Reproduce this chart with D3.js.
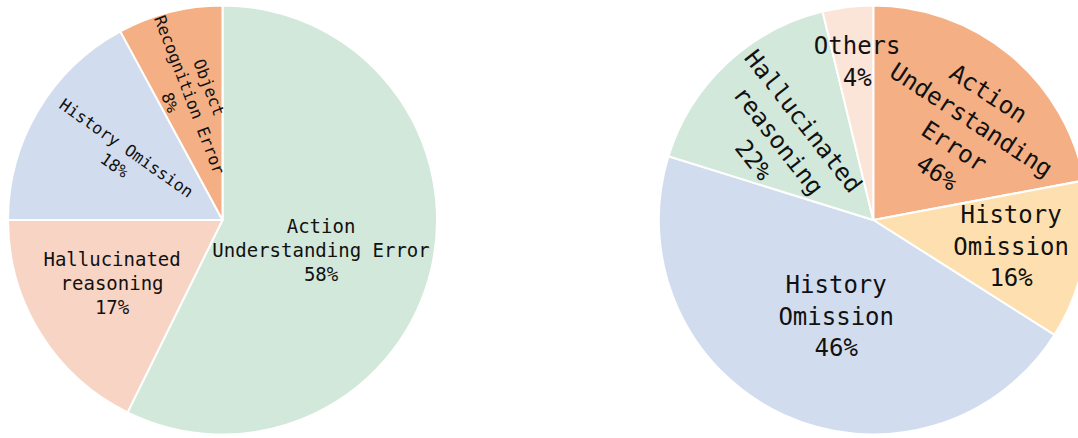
<!DOCTYPE html>
<html>
<head>
<meta charset="utf-8">
<script src="https://cdn.jsdelivr.net/npm/d3@7"></script>
<style>
  html, body { margin: 0; padding: 0; background: #fff; }
  svg { display: block; }
</style>
</head>
<body>
<svg id="chart" width="1078" height="438"></svg>
<script>
// ---- Data ----
const leftCategories = ["Action Understanding Error", "Hallucinated reasoning", "History Omission", "Object Recognition Error"];
const leftValues = [57.3, 17.7, 17.1, 7.9];
const leftLabels = [
  ["Action", "Understanding Error", "58%"],
  ["Hallucinated", "reasoning", "17%"],
  ["History Omission", "18%"],
  ["Object", "Recognition Error", "8%"]
];
const rightCategories = ["Action Understanding Error", "History Omission", "History Omission", "Hallucinated reasoning", "Others"];
const rightValues = [22.05, 11.95, 45.8, 16.4, 3.8];
const rightLabels = [
  ["Action", "Understanding", "Error", "46%"],
  ["History", "Omission", "16%"],
  ["History", "Omission", "46%"],
  ["Hallucinated", "reasoning", "22%"],
  ["Others", "4%"]
];

// ---- Styles / layout ----
const leftColors = ["#d2e8da", "#f8d4c4", "#d1ddee", "#f4b084"];
const rightColors = ["#f4b084", "#fee0b0", "#d1ddee", "#d2e8da", "#fbe4d8"];
// label placement: radius fraction, angle offset (deg), rotation (deg), font size, line height
const leftLabelCfg = [
  {r: 0.48, off: 3.7, rot: 0, fs: 19, lh: 24},
  {r: 0.593, off: 2.1, rot: 0, fs: 19, lh: 24},
  {r: 0.56, off: 0.9, rot: 35, fs: 16.5, lh: 21},
  {r: 0.603, off: -0.7, rot: 69, fs: 16.5, lh: 21}
];
const rightLabelCfg = [
  {r: 0.58, off: 6.2, rot: 33, fs: 24, lh: 31.5},
  {r: 0.654, off: 0, rot: 0, fs: 24, lh: 31.5},
  {r: 0.484, off: -3.9, rot: 0, fs: 24, lh: 31.5},
  {r: 0.577, off: -7, rot: 52, fs: 24, lh: 31.5},
  {r: 0.74, off: 1, rot: 0, fs: 24, lh: 31.5}
];

const svg = d3.select("#chart");
svg.append("rect").attr("width", 1078).attr("height", 438).attr("fill", "#fff");

function drawPie(cx, cy, radius, values, colors, labels, cfg) {
  const g = svg.append("g").attr("transform", `translate(${cx},${cy})`);
  const pie = d3.pie().sort(null).value(d => d).startAngle(0).endAngle(2 * Math.PI);
  const arcs = pie(values);
  const arc = d3.arc().innerRadius(0).outerRadius(radius);
  g.selectAll("path.slice").data(arcs).enter().append("path")
    .attr("class", "slice")
    .attr("d", arc)
    .attr("fill", (d, i) => colors[i])
    .attr("stroke", "#fff")
    .attr("stroke-width", 2)
    .attr("stroke-linejoin", "round");

  arcs.forEach((a, i) => {
    const c = cfg[i];
    const mid = (a.startAngle + a.endAngle) / 2 + c.off * Math.PI / 180;
    const rr = radius * c.r;
    const x = Math.sin(mid) * rr;
    const y = -Math.cos(mid) * rr;
    const lines = labels[i];
    const t = g.append("g").attr("transform", `translate(${x},${y}) rotate(${c.rot})`);
    lines.forEach((ln, j) => {
      t.append("text")
        .attr("x", 0)
        .attr("y", (j - (lines.length - 1) / 2) * c.lh)
        .attr("text-anchor", "middle")
        .attr("dominant-baseline", "central")
        .attr("font-family", "'DejaVu Sans Mono', 'Liberation Mono', monospace")
        .attr("font-size", c.fs)
        .attr("fill", "#111")
        .text(ln);
    });
  });
}

drawPie(222.5, 220, 214.5, leftValues, leftColors, leftLabels, leftLabelCfg);
drawPie(873.3, 220, 214.5, rightValues, rightColors, rightLabels, rightLabelCfg);
</script>
</body>
</html>
